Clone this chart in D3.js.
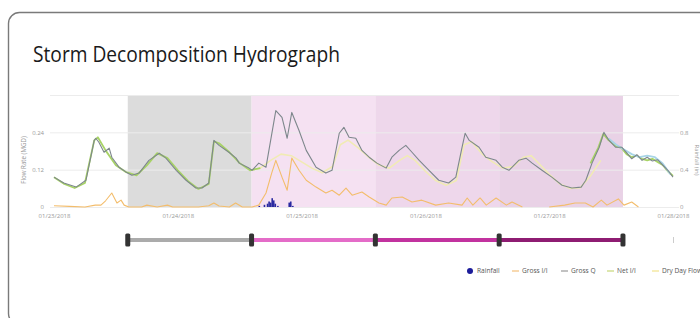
<!DOCTYPE html>
<html>
<head>
<meta charset="utf-8">
<script src="https://cdnjs.cloudflare.com/ajax/libs/d3/7.8.5/d3.min.js"></script>
<style>
  body { margin: 0; background: #fff; }
  svg { display: block; font-family: "Open Sans", "Noto Sans", sans-serif; }
</style>
</head>
<body>
<svg id="chart" width="700" height="318"></svg>
<script>
// ---- data (hours from 01/23/2018 00:00, flow in MGD) ----
const dayLabels = ['01/23/2018', '01/24/2018', '01/25/2018', '01/26/2018', '01/27/2018', '01/28/2018'];

// storm period boundaries (hours) and their colours
const periodHours = [14.3, 38.3, 62.3, 86.3, 110.3];
const periodFills = ['#dcdcdc', '#f5e1f2', '#eed7eb', '#e9d2e6'];
const sliderColors = ['#ababab', '#e46cc8', '#c2339f', '#8e1c72'];

const grossQHours = [0, 1.9, 4.3, 6.2, 7.8, 8.1, 8.7, 9.7, 10.7, 11.2, 12.6, 14, 15.1, 16.5, 18.4, 20.4, 21.7, 23.7,
  25.6, 27.5, 28.7, 30, 31, 32, 33.9, 35.3, 35.9, 37.8, 38.4, 39.7, 41.1, 43, 44.2, 45.2, 46.1, 47.5, 48.9,
  50.8, 52.7, 53.9, 55.3, 56.2, 57.2, 58.5, 59.7, 61.1, 62.6, 64.4, 65.5, 66.9, 68.2, 69.4, 70.8, 72.7, 74.6,
  76.5, 77.9, 79.1, 79.7, 80.5, 82.4, 83.7, 85.7, 86.9, 88.2, 90.1, 91.5, 92.7, 94.6, 96.5, 98.5, 100.4, 102.2,
  103.1, 104.3, 105.7, 106.6, 107.6, 108.9, 110.1, 111, 112, 113, 114, 115, 116, 117, 118, 119, 120];
const grossQ = [0.096, 0.077, 0.064, 0.086, 0.214, 0.221, 0.208, 0.176, 0.189, 0.16, 0.128, 0.112, 0.102, 0.109, 0.15, 0.173, 0.157, 0.118,
  0.086, 0.061, 0.061, 0.077, 0.214, 0.198, 0.176, 0.157, 0.141, 0.125, 0.118, 0.141, 0.128, 0.31, 0.288, 0.221, 0.304, 0.246, 0.182,
  0.128, 0.109, 0.118, 0.237, 0.256, 0.224, 0.221, 0.182, 0.16, 0.141, 0.125, 0.16, 0.182, 0.198, 0.176, 0.15, 0.118, 0.086,
  0.077, 0.096, 0.192, 0.237, 0.214, 0.192, 0.16, 0.15, 0.128, 0.118, 0.15, 0.157, 0.141, 0.118, 0.096, 0.07, 0.061, 0.064,
  0.086, 0.141, 0.192, 0.24, 0.214, 0.192, 0.192, 0.175, 0.155, 0.168, 0.15, 0.16, 0.148, 0.152, 0.135, 0.118, 0.096];

const netIIHours = [0, 2, 4, 6, 7.8, 8.5, 10, 12, 14, 16, 18, 20, 22, 24, 26, 28, 30, 31, 32, 34, 36, 38, 40,
  104, 105.5, 106.5, 107.5, 109, 110, 111, 112, 113, 114, 115, 116, 117, 118, 119, 120];
const netII = [0.096, 0.074, 0.061, 0.077, 0.214, 0.224, 0.182, 0.134, 0.112, 0.102, 0.134, 0.173, 0.157, 0.118, 0.083, 0.058, 0.074, 0.211, 0.205, 0.176, 0.141, 0.118, 0.125,
  0.14, 0.19, 0.235, 0.215, 0.195, 0.19, 0.17, 0.16, 0.165, 0.155, 0.15, 0.155, 0.145, 0.135, 0.115, 0.1];

const dryDayHours = [38, 40, 42, 44, 46, 48, 50, 52, 54, 55.5, 57, 59, 61, 63, 65, 67, 68.5, 70, 72, 74, 76, 78, 79.5,
  81, 83, 85, 87, 89, 91, 92.5, 94, 96, 98, 100, 102, 104, 106];
const dryDayFlow = [0.118, 0.125, 0.15, 0.17, 0.165, 0.145, 0.125, 0.11, 0.13, 0.2, 0.215, 0.19, 0.16, 0.135, 0.125, 0.15, 0.165, 0.15, 0.115, 0.085, 0.07, 0.085, 0.2,
  0.21, 0.17, 0.145, 0.125, 0.13, 0.16, 0.165, 0.14, 0.105, 0.075, 0.06, 0.062, 0.1, 0.15];

const blueHours = [107.5, 109, 110.5, 112, 113.5, 115, 116.5, 118, 119.5];
const blueQ = [0.22, 0.2, 0.185, 0.17, 0.16, 0.165, 0.16, 0.14, 0.105];

const grossIIHours = [0, 3, 6, 8, 9.1, 10, 11.2, 12.2, 13, 13.6, 14.5, 17, 18, 20, 22, 23, 28, 30, 31, 32, 34, 35.2, 36.5,
  38.4, 39.7, 41.1, 42.2, 43, 44.2, 45.2, 46.1, 47.5, 48.9, 50.8, 52.7, 53.9, 55.3, 56.6, 57.8, 59.7, 61.1, 63, 64.4,
  65.5, 67.5, 69.4, 71.3, 74, 76.5, 79.1, 80.1, 81.2, 82.6, 83.8, 85.7, 87.7, 88.8, 90.8, 91, 95, 96, 99, 101, 103,
  104.5, 106.1, 107.2, 109.4, 110.5, 112, 113.3];
const grossII = [0.004, 0.002, 0, 0.006, 0.006, 0.02, 0.045, 0.013, 0.022, 0.006, 0, 0, 0.006, 0, 0.006, 0, 0, 0.004, 0.013, 0.003, 0, 0.013, 0,
  0, 0.006, 0.045, 0.109, 0.15, 0.096, 0.054, 0.157, 0.118, 0.086, 0.064, 0.045, 0.054, 0.038, 0.061, 0.038, 0.048, 0.032, 0.013, 0.006,
  0.029, 0.032, 0.016, 0.022, 0.006, 0.013, 0.006, 0.029, 0.006, 0.029, 0.006, 0.029, 0.006, 0.016, 0, null, null, 0, 0.006, 0.013, 0.013,
  0, 0.022, 0.006, 0.026, 0.006, 0.016, 0];

const rainHours = [39.8, 40.8, 41.4, 41.7, 42, 42.3, 42.6, 42.9, 43.4, 45.6, 45.9, 46.3];
const rainfall = [0.01, 0.02, 0.03, 0.05, 0.04, 0.08, 0.06, 0.03, 0.01, 0.04, 0.05, 0.01];

const leftTicks = [0, 0.12, 0.24];
const rightTicks = [0, 0.4, 0.8];
const legendNames = ['Rainfall', 'Gross I/I', 'Gross Q', 'Net I/I', 'Dry Day Flow'];
const legendColors = ['#1c1c9a', '#f4c07c', '#9a9a9a', '#c6d878', '#f2e38c'];

// ---- helpers ----
const start = new Date(2018, 0, 23);
const toDate = h => new Date(start.getTime() + h * 3600e3);
const pairs = (hours, vals) => hours.map((h, i) => ({ t: toDate(h), v: vals[i] }));

const svg = d3.select('#chart');

// card frame + title
svg.append('rect')
  .attr('x', 8.5).attr('y', 12.5)
  .attr('width', 740).attr('height', 312)
  .attr('rx', 11)
  .attr('fill', '#fff')
  .attr('stroke', '#7a7a7a')
  .attr('stroke-width', 1.4);

svg.append('text')
  .attr('x', 33).attr('y', 62)
  .attr('font-size', 22)
  .attr('fill', '#1a1a1a')
  .attr('textLength', 307)
  .attr('lengthAdjust', 'spacingAndGlyphs')
  .text('Storm Decomposition Hydrograph');

// scales
const plot = { left: 54, right: 673, top: 95, bottom: 207 };
const x = d3.scaleTime()
  .domain([toDate(0), toDate(120)])
  .range([plot.left, plot.right]);
const y = d3.scaleLinear().domain([0, 0.36]).range([plot.bottom, plot.top]);
const yRight = d3.scaleLinear().domain([0, 1.2]).range([plot.bottom, plot.top]);
const yRain = d3.scaleLinear().domain([0, 0.1]).range([0, 11]);

const g = svg.append('g');

// storm period bands
g.selectAll('.band')
  .data(periodFills)
  .enter().append('rect')
  .attr('x', (d, i) => x(toDate(periodHours[i])))
  .attr('y', plot.top)
  .attr('width', (d, i) => x(toDate(periodHours[i + 1])) - x(toDate(periodHours[i])))
  .attr('height', plot.bottom - plot.top)
  .attr('fill', d => d);

// grid
g.selectAll('.grid')
  .data([0, 0.12, 0.24, 0.36])
  .enter().append('line')
  .attr('x1', 50).attr('x2', 679)
  .attr('y1', d => y(d) + 0.5).attr('y2', d => y(d) + 0.5)
  .attr('stroke', '#ececec')
  .attr('stroke-width', 1);

// left axis
const leftAxis = g.append('g')
  .attr('transform', `translate(${plot.left - 10},0)`)
  .call(d3.axisLeft(y).tickValues(leftTicks).tickSize(0).tickPadding(0).tickFormat(d => d === 0 ? '0' : d));
leftAxis.select('.domain').remove();
leftAxis.selectAll('text').attr('font-size', 6).attr('fill', '#999').attr('font-family', '"Open Sans", sans-serif');

g.append('text')
  .attr('transform', 'translate(26,160) rotate(-90)')
  .attr('text-anchor', 'middle')
  .attr('font-size', 6.2)
  .attr('fill', '#999')
  .text('Flow Rate (MGD)');

// right axis
const rightAxis = g.append('g')
  .attr('transform', `translate(${plot.right + 7},0)`)
  .call(d3.axisRight(yRight).tickValues(rightTicks).tickSize(0).tickPadding(0).tickFormat(d => d === 0 ? '0' : d));
rightAxis.select('.domain').remove();
rightAxis.selectAll('text').attr('font-size', 6).attr('fill', '#999').attr('font-family', '"Open Sans", sans-serif');

// right axis title sits at the very edge, as in the original (mostly clipped)
g.append('text')
  .attr('transform', 'translate(695,160) rotate(90)')
  .attr('text-anchor', 'middle')
  .attr('font-size', 6)
  .attr('fill', '#999')
  .text('Rainfall (in)');

// x axis labels
const xAxis = g.append('g')
  .attr('transform', `translate(0,${plot.bottom + 5})`)
  .call(d3.axisBottom(x)
    .tickValues(dayLabels.map(s => d3.timeParse('%m/%d/%Y')(s)))
    .tickSize(0).tickPadding(2)
    .tickFormat(d3.timeFormat('%m/%d/%Y')));
xAxis.select('.domain').remove();
xAxis.selectAll('text').attr('font-size', 6).attr('fill', '#999').attr('font-family', '"Open Sans", sans-serif');

// rainfall bars
g.selectAll('.rain')
  .data(pairs(rainHours, rainfall))
  .enter().append('rect')
  .attr('x', d => x(d.t) - 0.8)
  .attr('y', d => plot.bottom - yRain(d.v))
  .attr('width', 1.6)
  .attr('height', d => yRain(d.v))
  .attr('fill', '#2a2aa0');

// lines
const line = d3.line()
  .defined(d => d.v !== null)
  .x(d => x(d.t))
  .y(d => y(d.v));

function drawLine(hours, vals, color, width) {
  g.append('path')
    .datum(pairs(hours, vals))
    .attr('fill', 'none')
    .attr('stroke', color)
    .attr('stroke-width', width)
    .attr('stroke-linejoin', 'round')
    .attr('d', line);
}

drawLine(grossIIHours, grossII, '#f3bd6c', 1.1);
drawLine(dryDayHours, dryDayFlow, '#f1ebb4', 1.6);
// net I/I is only drawn in the dry stretches (gap between)
drawLine(netIIHours.slice(0, 23), netII.slice(0, 23), '#a8d366', 1.8);
drawLine(netIIHours.slice(23), netII.slice(23), '#a8d366', 1.8);
drawLine(blueHours, blueQ, '#a8d5e7', 1.8);
drawLine(grossQHours, grossQ, '#7d878c', 1.1);

// range slider under the chart
const sliderY = 240;
g.selectAll('.seg')
  .data(sliderColors)
  .enter().append('line')
  .attr('x1', (d, i) => x(toDate(periodHours[i])))
  .attr('x2', (d, i) => x(toDate(periodHours[i + 1])))
  .attr('y1', sliderY).attr('y2', sliderY)
  .attr('stroke', d => d)
  .attr('stroke-width', 4);

g.selectAll('.handle')
  .data(periodHours)
  .enter().append('rect')
  .attr('x', d => x(toDate(d)) - 2.5)
  .attr('y', sliderY - 6.5)
  .attr('width', 5)
  .attr('height', 13)
  .attr('rx', 1.5)
  .attr('fill', '#333');

g.append('line')
  .attr('x1', x(toDate(120)) + 0.5).attr('x2', x(toDate(120)) + 0.5)
  .attr('y1', sliderY - 3).attr('y2', sliderY + 3)
  .attr('stroke', '#ccc');

// legend
const legendX = [470, 512, 561, 607, 652];
const legend = g.selectAll('.legend')
  .data(legendNames)
  .enter().append('g')
  .attr('transform', (d, i) => `translate(${legendX[i]},271)`);

legend.each(function (d, i) {
  const item = d3.select(this);
  if (i === 0) {
    item.append('circle').attr('r', 3).attr('fill', legendColors[i]);
  } else {
    item.append('line').attr('x1', 0).attr('x2', 7)
      .attr('stroke', legendColors[i]).attr('stroke-width', 1.2);
  }
  item.append('text')
    .attr('x', i === 0 ? 7 : 10)
    .attr('y', 2.2)
    .attr('font-size', 6.6)
    .attr('fill', '#555')
    .text(d);
});
</script>
</body>
</html>
